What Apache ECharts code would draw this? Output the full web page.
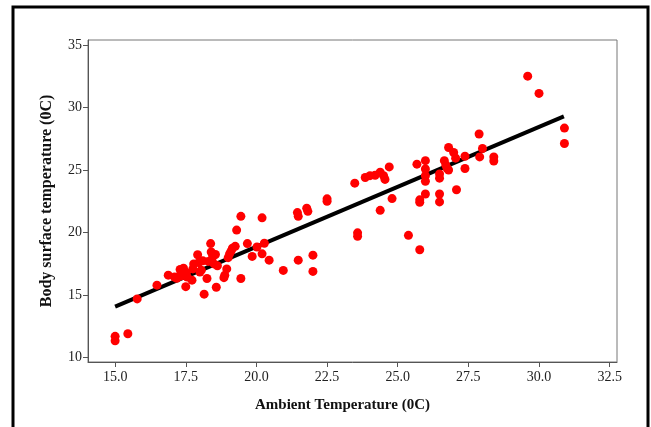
<!DOCTYPE html>
<html>
<head>
<meta charset="utf-8">
<title>Body surface vs ambient temperature</title>
<script src="https://cdn.jsdelivr.net/npm/echarts@6/dist/echarts.min.js"></script>
<style>
  html, body { margin: 0; padding: 0; background: #fff; }
  #root { width: 651px; height: 427px; }
</style>
</head>
<body>
<div id="root"></div>
<script>
// tick labels
var xTicks = [15.0, 17.5, 20.0, 22.5, 25.0, 27.5, 30.0, 32.5];
var yTicks = [10, 15, 20, 25, 30, 35];

// ambient temperature (x) and body surface temperature (y)
var ambient = [
  15.0, 15.0, 15.45, 15.78, 16.48, 16.88, 17.1, 17.18, 17.25, 17.3, 17.35, 17.42, 17.5, 17.52, 17.55,
  17.72, 17.75, 17.78, 17.92, 17.96, 18.0, 18.05, 18.1, 18.15, 18.25, 18.3, 18.38, 18.4, 18.45, 18.5,
  18.55, 18.58, 18.62, 18.85, 18.88, 18.95, 19.0, 19.05, 19.1, 19.15, 19.25, 19.3, 19.45, 19.45, 19.68,
  19.85, 20.02, 20.2, 20.2, 20.28, 20.45, 20.95, 21.45, 21.48, 21.48, 21.78, 21.82, 22.0, 22.0, 22.5,
  22.5, 23.48, 23.58, 23.58, 23.85, 24.02, 24.2, 24.38, 24.38, 24.5, 24.55, 24.7, 24.8, 25.38, 25.68,
  25.78, 25.78, 25.78, 25.98, 25.98, 25.98, 25.98, 25.98, 26.48, 26.48, 26.48, 26.48, 26.65, 26.7, 26.75,
  26.8, 26.8, 26.98, 27.05, 27.08, 27.38, 27.38, 27.88, 27.9, 28.0, 28.4, 28.4, 29.6, 30.0, 30.9, 30.9
];
var bodySurface = [
  11.71, 11.35, 11.92, 14.7, 15.8, 16.6, 16.45, 16.35, 16.5, 17.05, 16.55, 17.15, 15.68, 16.8, 16.45,
  16.2, 17.1, 17.5, 18.23, 17.6, 16.85, 17.0, 17.75, 15.08, 16.33, 17.7, 19.12, 18.45, 18.05, 17.5,
  18.25, 15.63, 17.35, 16.4, 16.6, 17.1, 18.0, 18.3, 18.5, 18.75, 18.9, 20.2, 21.3, 16.33, 19.12,
  18.1, 18.85, 21.18, 18.3, 19.15, 17.8, 16.98, 21.6, 21.3, 17.8, 21.95, 21.7, 18.2, 16.9, 22.7,
  22.5, 23.95, 19.98, 19.7, 24.4, 24.55, 24.58, 24.82, 21.78, 24.55, 24.25, 25.25, 22.72, 19.78, 25.47,
  18.63, 22.62, 22.42, 25.75, 25.08, 24.55, 24.1, 23.08, 24.68, 24.35, 23.08, 22.45, 25.75, 25.4, 25.12,
  26.8, 25.0, 26.4, 25.95, 23.42, 26.1, 25.12, 27.88, 26.05, 26.72, 26.05, 25.72, 32.5, 31.12, 28.35, 27.12
];

// fitted line end points
var fitX = [15.0, 30.88];
var fitY = [14.08, 29.29];

var points = ambient.map(function(x, i) { return [x, bodySurface[i]]; });
var fitLine = fitX.map(function(x, i) { return [x, fitY[i]]; });

var myChart = echarts.init(document.getElementById('root'));
var serif = '"Liberation Serif", "Times New Roman", serif';

var option = {
    animation: false,
    backgroundColor: '#fff',
    graphic: [{
        type: 'rect',
        shape: { x: 13, y: 7, width: 635, height: 440 },
        style: { fill: 'none', stroke: '#000', lineWidth: 3 },
        silent: true
    }],
    grid: {
        left: 88, right: 34, top: 40, bottom: 65,
        show: true,
        borderColor: '#777',
        borderWidth: 1
    },
    xAxis: {
        type: 'value',
        min: 14.04,
        max: 32.76,
        name: 'Ambient Temperature (0C)',
        nameLocation: 'middle',
        nameGap: 36,
        nameTextStyle: { fontFamily: serif, fontWeight: 'bold', fontSize: 15, color: '#111', padding: [0, 20, 0, 0] },
        splitLine: { show: false },
        axisLine: { lineStyle: { color: '#555' } },
        axisTick: { customValues: xTicks, length: 5, lineStyle: { color: '#555' } },
        axisLabel: {
            customValues: xTicks,
            fontFamily: serif, fontSize: 14, color: '#222', margin: 8,
            formatter: function(v) { return v.toFixed(1); }
        }
    },
    yAxis: {
        type: 'value',
        min: 9.66,
        max: 35.39,
        name: 'Body surface temperature (0C)',
        nameLocation: 'middle',
        nameRotate: 90,
        nameGap: 33,
        nameTextStyle: { fontFamily: serif, fontWeight: 'bold', fontSize: 16, color: '#111' },
        splitLine: { show: false },
        axisLine: { show: true, lineStyle: { color: '#555' } },
        axisTick: { show: true, customValues: yTicks, length: 5, lineStyle: { color: '#555' } },
        axisLabel: {
            customValues: yTicks,
            fontFamily: serif, fontSize: 14, color: '#222', margin: 6
        }
    },
    series: [{
        type: 'line',
        data: fitLine,
        symbol: 'none',
        lineStyle: { color: '#000', width: 4 },
        z: 2
    }, {
        type: 'scatter',
        data: points,
        symbol: 'circle',
        symbolSize: 9,
        itemStyle: { color: '#ff0000', opacity: 1 },
        z: 3
    }]
};
myChart.setOption(option, true);
</script>
</body>
</html>
